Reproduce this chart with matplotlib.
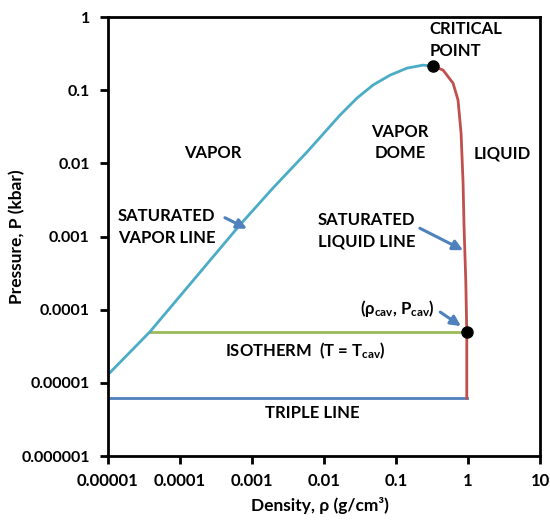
import matplotlib
matplotlib.use('Agg')
import matplotlib.pyplot as plt

plt.rcParams['font.family'] = ['Lato', 'DejaVu Sans']
plt.rcParams['font.weight'] = 'bold'
plt.rcParams['mathtext.fontset'] = 'custom'
plt.rcParams['mathtext.rm'] = 'Lato:bold'
plt.rcParams['mathtext.it'] = 'Lato:bold'
plt.rcParams['mathtext.bf'] = 'Lato:bold'

# saturated vapor line (density g/cm3, pressure kbar)
vap_rho = [1e-5, 3.83e-5, 6.8e-4, 1.96e-3, 5.81e-3, 0.0167, 0.0287, 0.048, 0.0826, 0.142, 0.237, 0.327]
vap_p = [1.29e-5, 4.98e-5, 1.44e-3, 4.61e-3, 0.0143, 0.0458, 0.0782, 0.118, 0.161, 0.201, 0.221, 0.214]

# saturated liquid line
liq_rho = [0.327, 0.45, 0.62, 0.726, 0.80, 0.853, 0.88, 0.93, 0.96, 0.96]
liq_p = [0.214, 0.189, 0.125, 0.0735, 0.026, 5.4e-3, 1.35e-3, 2.5e-4, 4.98e-5, 6.2e-6]

iso_rho = [3.83e-5, 0.96]
iso_p = [4.98e-5, 4.98e-5]
triple_rho = [1e-5, 0.96]
triple_p = [6.2e-6, 6.2e-6]

crit = (0.327, 0.214)
cav = (0.96, 4.98e-5)

xticks = [1e-5, 1e-4, 1e-3, 1e-2, 1e-1, 1, 10]
xlabels = ['0.00001', '0.0001', '0.001', '0.01', '0.1', '1', '10']
yticks = [1e-6, 1e-5, 1e-4, 1e-3, 1e-2, 1e-1, 1]
ylabels = ['0.000001', '0.00001', '0.0001', '0.001', '0.01', '0.1', '1']

fig = plt.figure(figsize=(5.5, 5.2), dpi=100)
ax = fig.add_axes([0.196, 0.123, 0.786, 0.844])

ax.plot(triple_rho, triple_p, color='#4f81bd', lw=2)
ax.plot(iso_rho, iso_p, color='#9bbb59', lw=2)
ax.plot(vap_rho, vap_p, color='#4bacc6', lw=2)
ax.plot(liq_rho, liq_p, color='#c0504d', lw=2)
ax.plot(*crit, 'o', color='black', ms=8)
ax.plot(*cav, 'o', color='black', ms=8)

ax.set_xscale('log')
ax.set_yscale('log')
ax.set_xlim(1e-5, 10)
ax.set_ylim(1e-6, 1)
ax.xaxis.set_minor_locator(matplotlib.ticker.NullLocator())
ax.yaxis.set_minor_locator(matplotlib.ticker.NullLocator())
ax.set_xticks(xticks, labels=xlabels)
ax.set_yticks(yticks, labels=ylabels)
ax.tick_params(direction='out', length=6, width=2, pad=6)
ax.tick_params(axis='x', labelsize=12)
ax.tick_params(axis='y', labelsize=11.5, pad=7)
for s in ax.spines.values():
    s.set_linewidth(2)

ax.set_xlabel('Density, ρ (g/cm³)', fontsize=12.5, fontweight='bold')
ax.set_ylabel('Pressure, P (kbar)', fontsize=12.5, fontweight='bold')
ax.xaxis.set_label_coords(0.49, -0.093)
ax.yaxis.set_label_coords(-0.192, 0.5)

fs = 12
tr = ax.transAxes
ax.text(0.745, 0.948, 'CRITICAL\nPOINT', transform=tr, ha='left', va='center', fontsize=fs, linespacing=1.4)
ax.text(0.243, 0.690, 'VAPOR', transform=tr, ha='center', va='center', fontsize=fs)
ax.text(0.676, 0.715, 'VAPOR\nDOME', transform=tr, ha='center', va='center', fontsize=fs, linespacing=1.4)
ax.text(0.912, 0.690, 'LIQUID', transform=tr, ha='center', va='center', fontsize=fs)
ax.text(0.023, 0.522, 'SATURATED\nVAPOR LINE', transform=tr, ha='left', va='center', fontsize=fs, linespacing=1.4)
ax.text(0.486, 0.513, 'SATURATED\nLIQUID LINE', transform=tr, ha='left', va='center', fontsize=fs, linespacing=1.4)
ax.text(0.583, 0.337, '(ρ$_{cav}$, P$_{cav}$)', transform=tr, ha='left', va='center', fontsize=fs)
ax.text(0.456, 0.241, 'ISOTHERM  (T = T$_{cav}$)', transform=tr, ha='center', va='center', fontsize=fs)
ax.text(0.472, 0.098, 'TRIPLE LINE', transform=tr, ha='center', va='center', fontsize=fs)

arrow = dict(arrowstyle='-|>', color='#4f81bd', lw=2.2, mutation_scale=15, shrinkA=0, shrinkB=0)
ax.annotate('', xy=(0.322, 0.518), xycoords='axes fraction', xytext=(0.271, 0.543), textcoords='axes fraction', arrowprops=arrow)
ax.annotate('', xy=(0.822, 0.469), xycoords='axes fraction', xytext=(0.722, 0.519), textcoords='axes fraction', arrowprops=arrow)
ax.annotate('', xy=(0.817, 0.296), xycoords='axes fraction', xytext=(0.769, 0.328), textcoords='axes fraction', arrowprops=arrow)

fig.savefig('out.png', dpi=100)
